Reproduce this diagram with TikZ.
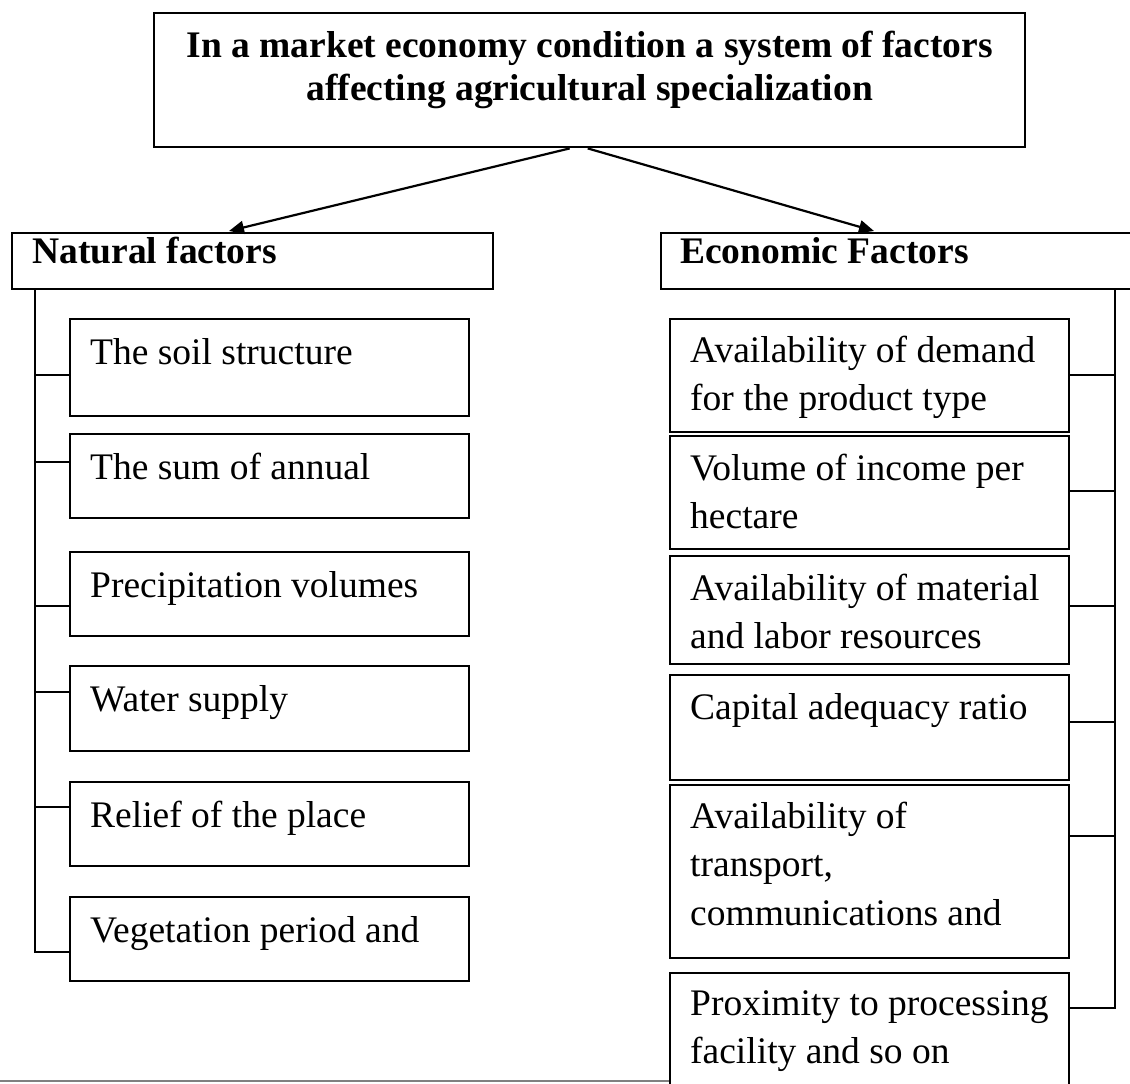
\documentclass[tikz,border=0pt]{standalone}
\usepackage{fontspec}
\setmainfont{Liberation Serif}
\usetikzlibrary{arrows.meta,calc}
\newcommand{\ptxt}[1]{\parbox[t]{390pt}{\raggedright\fontsize{37.5}{48.5}\selectfont #1}}
\begin{document}
\begin{tikzpicture}[x=1pt,y=-1pt,
  frame/.style={draw=black, line width=1.8pt, inner sep=0pt, anchor=north west},
  lbl/.style={inner sep=0pt, anchor=base west},
  link/.style={draw=black, line width=1.8pt},
  arr/.style={draw=black, line width=2.2pt, -{Triangle[length=15pt,width=13pt]}}]
\useasboundingbox (0,0) rectangle (1130,1084);
\clip (0,0) rectangle (1130,1084);

% title box
\node[frame, line width=2.4pt, minimum width=871pt, minimum height=134pt] (T) at (153,12) {};
\node[inner sep=0pt, anchor=base] (Tt) at ($(T.north)+(0,45)$)
  {\parbox[t]{871pt}{\centering\bfseries\fontsize{37.5}{43.5}\selectfont In a market economy condition a system of factors\\ affecting agricultural specialization}};

% headings
\node[frame, minimum width=481pt, minimum height=56pt] (NF) at (11,232) {};
\node[lbl] (NFt) at ($(NF.north west)+(21,31)$) {\bfseries\fontsize{37.5}{48}\selectfont Natural factors};
\node[frame, minimum width=500pt, minimum height=56pt] (EF) at (660,232) {};
\node[lbl] (EFt) at ($(EF.north west)+(20,31)$) {\bfseries\fontsize{37.5}{48}\selectfont Economic Factors};

% arrows
\draw[arr] ($(T.south)+(-20,0)$) -- ($(NF.north west)+(218,-1)$);
\draw[arr] ($(T.south)+(-2,0)$) -- ($(EF.north west)+(214,-1)$);

% left boxes
\node[frame, minimum width=399pt, minimum height=97pt] (L1) at (69,318) {};
\node[frame, minimum width=399pt, minimum height=84pt] (L2) at (69,433) {};
\node[frame, minimum width=399pt, minimum height=84pt] (L3) at (69,551) {};
\node[frame, minimum width=399pt, minimum height=85pt] (L4) at (69,665) {};
\node[frame, minimum width=399pt, minimum height=84pt] (L5) at (69,781) {};
\node[frame, minimum width=399pt, minimum height=84pt] (L6) at (69,896) {};
\node[lbl] (L1t) at ($(L1.north west)+(21,46)$) {\ptxt{The soil structure}};
\node[lbl] (L2t) at ($(L2.north west)+(21,46)$) {\ptxt{The sum of annual}};
\node[lbl] (L3t) at ($(L3.north west)+(21,46)$) {\ptxt{Precipitation volumes}};
\node[lbl] (L4t) at ($(L4.north west)+(21,46)$) {\ptxt{Water supply}};
\node[lbl] (L5t) at ($(L5.north west)+(21,46)$) {\ptxt{Relief of the place}};
\node[lbl] (L6t) at ($(L6.north west)+(21,46)$) {\ptxt{Vegetation period and}};

% left spine
\coordinate (ls) at ($(NF.south west)+(24,0)$);
\foreach \n/\d in {1/57,2/29,3/55,4/27,5/26,6/56}
  \coordinate (lc\n) at ($(L\n.north west)+(0,\d)$);
\draw[link] (ls) |- (lc6);
\foreach \n in {1,...,5}
  \draw[link] (lc\n -| ls) -- (lc\n);

% right boxes
\node[frame, minimum width=399pt, minimum height=113pt] (R1) at (669,318) {};
\node[frame, minimum width=399pt, minimum height=113pt] (R2) at (669,435) {};
\node[frame, minimum width=399pt, minimum height=108pt] (R3) at (669,555) {};
\node[frame, minimum width=399pt, minimum height=105pt] (R4) at (669,674) {};
\node[frame, minimum width=399pt, minimum height=173pt] (R5) at (669,784) {};
\node[frame, minimum width=399pt, minimum height=150pt] (R6) at (669,972) {};
\node[lbl] (R1t) at ($(R1.north west)+(21,44)$) {\ptxt{Availability of demand\\ for the product type}};
\node[lbl] (R2t) at ($(R2.north west)+(21,45)$) {\ptxt{Volume of income per\\ hectare}};
\node[lbl] (R3t) at ($(R3.north west)+(21,45)$) {\ptxt{Availability of material\\ and labor resources}};
\node[lbl] (R4t) at ($(R4.north west)+(21,45)$) {\ptxt{Capital adequacy ratio}};
\node[lbl] (R5t) at ($(R5.north west)+(21,44)$) {\ptxt{Availability of\\ transport,\\ communications and}};
\node[lbl] (R6t) at ($(R6.north west)+(21,43)$) {\ptxt{Proximity to processing\\ facility and so on}};

% right spine
\coordinate (rs) at ($(EF.south west)+(455,0)$);
\foreach \n/\d in {1/57,2/56,3/51,4/48,5/52,6/36}
  \coordinate (rc\n) at ($(R\n.north east)+(0,\d)$);
\draw[link] (rs) |- (rc6);
\foreach \n in {1,...,5}
  \draw[link] (rc\n -| rs) -- (rc\n);

% bottom edge line
\coordinate (bl) at (0,1081);
\draw[gray, line width=1.2pt] (bl) -- (bl -| R6.west);
\end{tikzpicture}
\end{document}
